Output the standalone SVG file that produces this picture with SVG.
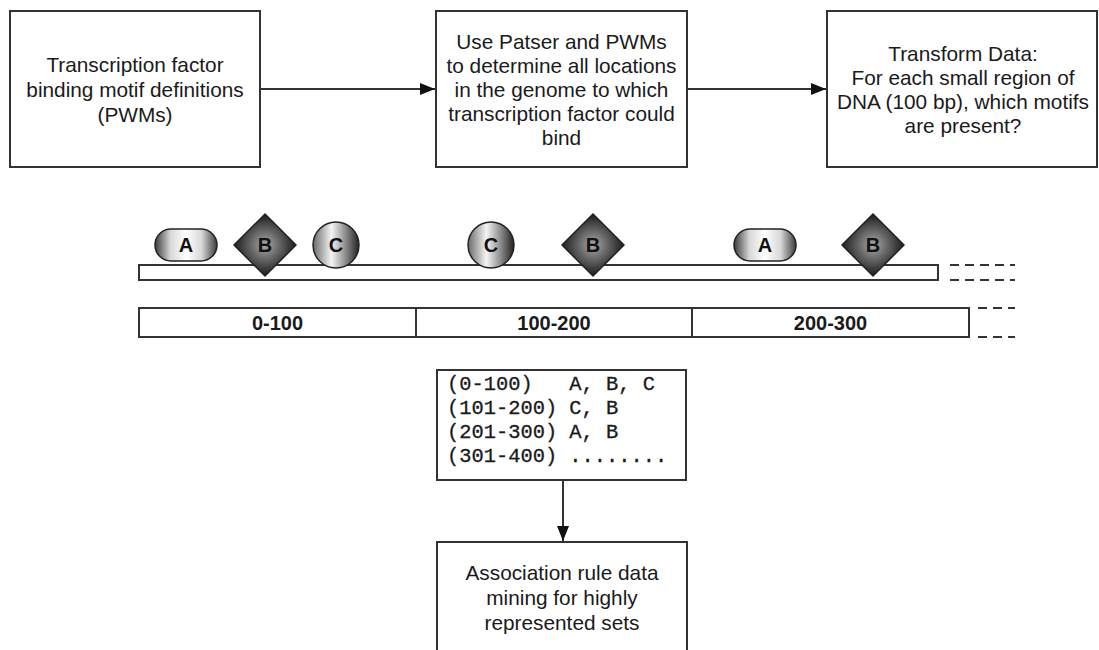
<svg xmlns="http://www.w3.org/2000/svg" width="1099" height="650" viewBox="0 0 1099 650">
  <defs>
    <style>
      .box { fill: #ffffff; stroke: #333333; stroke-width: 2; }
      .lbl { font-family: "Liberation Sans", Arial, sans-serif; font-size: 20.8px; fill: #1a1a1a; text-anchor: middle; }
      .seg { font-family: "Liberation Sans", Arial, sans-serif; font-size: 20px; font-weight: bold; fill: #1a1a1a; text-anchor: middle; }
      .mot { font-family: "Liberation Sans", Arial, sans-serif; font-size: 20px; font-weight: bold; fill: #111111; text-anchor: middle; }
      .mono { font-family: "Liberation Mono", "Courier New", monospace; font-size: 20.4px; fill: #1a1a1a; stroke: #1a1a1a; stroke-width: 0.3; white-space: pre; }
      .edge { fill: none; stroke: #333333; stroke-width: 2; }
      .dash { fill: none; stroke: #333333; stroke-width: 2; stroke-dasharray: 9 6; }
      .bar { fill: #ffffff; stroke: #333333; stroke-width: 2; }
      .shape { stroke: #222222; stroke-width: 1.5; }
    </style>
    <marker id="arrow" viewBox="0 0 15 12" refX="15" refY="6" markerWidth="15" markerHeight="12" markerUnits="userSpaceOnUse" orient="auto">
      <path d="M0,0 L15,6 L0,12 Z" fill="#111111"/>
    </marker>
    <linearGradient id="gradPill" x1="0" y1="0" x2="1" y2="0">
      <stop offset="0" stop-color="#3c3c3c"/>
      <stop offset="0.25" stop-color="#d8d8d8"/>
      <stop offset="0.5" stop-color="#ffffff"/>
      <stop offset="0.75" stop-color="#d8d8d8"/>
      <stop offset="1" stop-color="#3c3c3c"/>
    </linearGradient>
    <radialGradient id="gradDiamond" cx="0.5" cy="0.5" r="0.55">
      <stop offset="0" stop-color="#a8a8a8"/>
      <stop offset="0.5" stop-color="#5a5a5a"/>
      <stop offset="1" stop-color="#0d0d0d"/>
    </radialGradient>
    <linearGradient id="gradCircle" x1="0" y1="0" x2="1" y2="0">
      <stop offset="0" stop-color="#6a6a6a"/>
      <stop offset="0.4" stop-color="#f4f4f4"/>
      <stop offset="0.7" stop-color="#8f8f8f"/>
      <stop offset="1" stop-color="#222222"/>
    </linearGradient>
    <rect id="pill" x="-31" y="-16" width="62" height="32" rx="16" ry="16" class="shape" fill="url(#gradPill)"/>
    <polygon id="diamond" points="0,-31 31,0 0,31 -31,0" class="shape" fill="url(#gradDiamond)"/>
    <circle id="disc" r="23" class="shape" fill="url(#gradCircle)"/>
  </defs>

  <rect width="1099" height="650" fill="#ffffff"/>

  <!-- process boxes -->
  <g id="node-pwm">
    <rect class="box" x="10" y="11" width="250" height="156"/>
    <text class="lbl" x="135" y="72">Transcription factor</text>
    <text class="lbl" x="135" y="97">binding motif definitions</text>
    <text class="lbl" x="135" y="122">(PWMs)</text>
  </g>

  <g id="node-patser">
    <rect class="box" x="436" y="11" width="251" height="156"/>
    <text class="lbl" x="561.5" y="49">Use Patser and PWMs</text>
    <text class="lbl" x="561.5" y="73">to determine all locations</text>
    <text class="lbl" x="561.5" y="97">in the genome to which</text>
    <text class="lbl" x="561.5" y="121">transcription factor could</text>
    <text class="lbl" x="561.5" y="145">bind</text>
  </g>

  <g id="node-transform">
    <rect class="box" x="827" y="11" width="270" height="156"/>
    <text class="lbl" x="963" y="61">Transform Data:</text>
    <text class="lbl" x="963" y="85">For each small region of</text>
    <text class="lbl" x="963" y="109">DNA (100 bp), which motifs</text>
    <text class="lbl" x="963" y="133">are present?</text>
  </g>

  <!-- genome strip with motif hits -->
  <g id="node-genome">
    <rect class="bar" x="139" y="265" width="799" height="15"/>
    <path class="dash" d="M950,265 H1015 M950,280 H1015"/>
    <g transform="translate(186,245)"><use href="#pill"/><text class="mot" y="7">A</text></g>
    <g transform="translate(265,245)"><use href="#diamond"/><text class="mot" y="7">B</text></g>
    <g transform="translate(336,245)"><use href="#disc"/><text class="mot" y="7">C</text></g>
    <g transform="translate(491,245)"><use href="#disc"/><text class="mot" y="7">C</text></g>
    <g transform="translate(593,245)"><use href="#diamond"/><text class="mot" y="7">B</text></g>
    <g transform="translate(765,245)"><use href="#pill"/><text class="mot" y="7">A</text></g>
    <g transform="translate(873,245)"><use href="#diamond"/><text class="mot" y="7">B</text></g>
  </g>

  <!-- 100 bp windows -->
  <g id="node-windows">
    <rect class="bar" x="139" y="308" width="830" height="29"/>
    <path class="edge" d="M416,308 V337 M692,308 V337"/>
    <path class="dash" d="M978,308 H1015 M978,337 H1015"/>
    <text class="seg" x="277.5" y="330">0-100</text>
    <text class="seg" x="554" y="330">100-200</text>
    <text class="seg" x="830.5" y="330">200-300</text>
  </g>

  <!-- window-to-motif table -->
  <g id="node-table">
    <rect class="box" x="437" y="370" width="249" height="110"/>
    <text class="mono" x="447" y="390">(0-100)   A, B, C</text>
    <text class="mono" x="447" y="414">(101-200) C, B</text>
    <text class="mono" x="447" y="438">(201-300) A, B</text>
    <text class="mono" x="447" y="462">(301-400) ........</text>
  </g>

  <g id="node-mining">
    <rect class="box" x="437" y="542" width="250" height="120"/>
    <text class="lbl" x="562" y="580">Association rule data</text>
    <text class="lbl" x="562" y="605">mining for highly</text>
    <text class="lbl" x="562" y="630">represented sets</text>
  </g>

  <!-- connectors -->
  <g id="connectors">
    <line class="edge" x1="260" y1="89" x2="435" y2="89" marker-end="url(#arrow)"/>
    <line class="edge" x1="687" y1="89" x2="826" y2="89" marker-end="url(#arrow)"/>
    <line class="edge" x1="563" y1="480" x2="563" y2="541" marker-end="url(#arrow)"/>
  </g>
</svg>
